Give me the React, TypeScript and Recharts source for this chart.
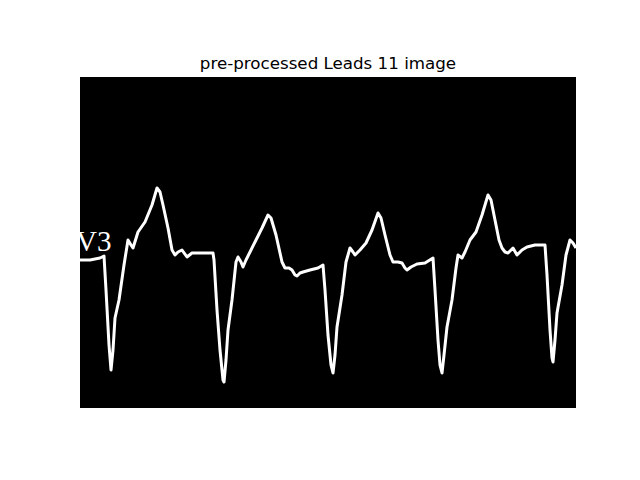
import { LineChart, Line, XAxis, YAxis, CartesianGrid } from 'recharts';

// trace: x = pixel offset from the left edge of the image,
// y = pixel height above the bottom edge of the image (image is 496 x 331)
const traceX = [
  0, 10, 20, 24, 26, 29, 31, 33, 35, 39, 44, 48, 51, 53, 58, 65, 72, 77, 80, 83, 88, 92, 95, 98,
  102, 107, 112, 118, 125, 133, 134, 137, 140, 143, 144, 146, 148, 152, 156, 158, 161, 163, 166,
  170, 176, 182, 188, 191, 196, 202, 205, 209, 212, 215, 217, 220, 223, 230, 238, 243, 245, 248,
  251, 253, 255, 257, 262, 266, 270, 273, 275, 280, 286, 292, 298, 301, 305, 310, 313, 318, 322,
  325, 327, 331, 337, 345, 353, 355, 358, 360, 362, 364, 367, 372, 376, 378, 382, 385, 390, 396,
  402, 408, 411, 415, 419, 422, 425, 428, 433, 437, 442, 447, 455, 465, 467, 470, 472, 473, 475,
  477, 482, 486, 490, 493, 496,
];
const traceY = [
  148, 148, 150, 152, 118, 63, 38, 58, 90, 108, 143, 168, 163, 160, 176, 186, 203, 220, 216, 203,
  180, 158, 153, 156, 158, 151, 155, 155, 155, 155, 148, 98, 58, 28, 26, 48, 78, 108, 146, 151,
  146, 141, 148, 156, 168, 180, 193, 190, 173, 146, 140, 140, 138, 133, 132, 135, 136, 138, 140,
  143, 118, 73, 43, 35, 53, 81, 113, 146, 160, 156, 153, 158, 165, 178, 195, 190, 173, 153, 146,
  146, 145, 140, 138, 141, 144, 145, 150, 118, 68, 43, 35, 53, 81, 108, 140, 153, 150, 156, 168,
  176, 193, 213, 208, 188, 168, 160, 156, 155, 160, 153, 158, 161, 163, 163, 133, 78, 50, 46, 68,
  95, 123, 153, 168, 165, 160,
];

const data = traceX.map((x, i) => ({ x, y: traceY[i] }));

export default function App() {
  return (
    <div style={{ position: 'absolute', left: 0, top: 0, width: 640, height: 480, background: '#fff' }}>
      <div
        style={{
          position: 'absolute',
          top: 54,
          left: 80,
          width: 496,
          textAlign: 'center',
          fontFamily: 'DejaVu Sans',
          fontSize: 16.7,
          lineHeight: '19px',
          color: '#000',
        }}
      >
        pre-processed Leads 11 image
      </div>
      <LineChart width={640} height={480} data={data} margin={{ top: 77, right: 64, bottom: 72, left: 80 }}>
        <CartesianGrid horizontal={false} vertical={false} fill="#000" fillOpacity={1} />
        <XAxis dataKey="x" type="number" domain={[0, 496]} hide />
        <YAxis type="number" domain={[0, 331]} hide width={0} />
        <text x={76} y={251} fill="#fff" fontFamily="Liberation Serif" fontSize={29}>
          V3
        </text>
        <Line
          type="linear"
          dataKey="y"
          stroke="#fff"
          strokeWidth={3}
          strokeLinejoin="round"
          dot={false}
          isAnimationActive={false}
        />
      </LineChart>
    </div>
  );
}
